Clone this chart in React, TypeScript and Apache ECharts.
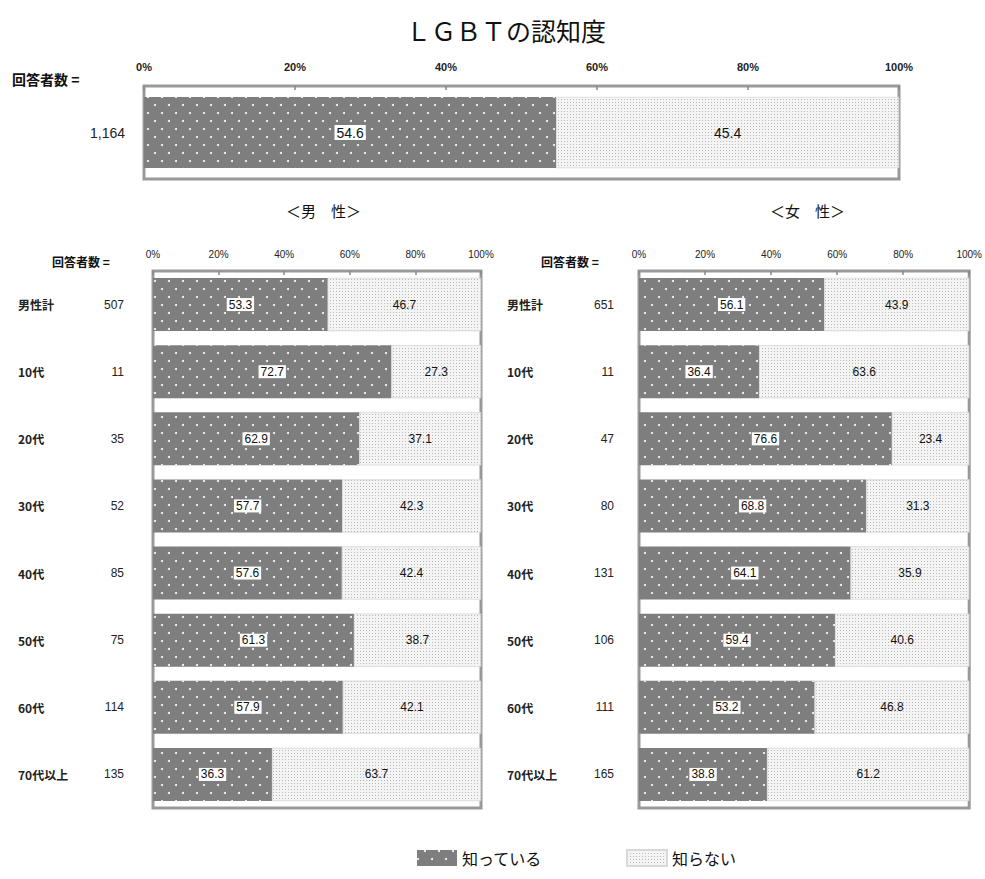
import React, { useEffect, useRef } from "react";
import * as echarts from "echarts";

const titleText = "ＬＧＢＴの認知度";
const seriesNames = ["知っている", "知らない"];
const tickValues = [0, 20, 40, 60, 80, 100];

const totalCategories = ["全体"];
const totalCounts = ["1,164"];
const totalKnow = [54.6];
const totalNot = [45.4];

const categories = ["男性計", "10代", "20代", "30代", "40代", "50代", "60代", "70代以上"];
const maleCounts = ["507", "11", "35", "52", "85", "75", "114", "135"];
const maleKnow = [53.3, 72.7, 62.9, 57.7, 57.6, 61.3, 57.9, 36.3];
const maleNot = [46.7, 27.3, 37.1, 42.3, 42.4, 38.7, 42.1, 63.7];
const femaleCounts = ["651", "11", "47", "80", "131", "106", "111", "165"];
const femaleKnow = [56.1, 36.4, 76.6, 68.8, 64.1, 59.4, 53.2, 38.8];
const femaleNot = [43.9, 63.6, 23.4, 31.3, 35.9, 40.6, 46.8, 61.2];

const JP = '"Noto Sans CJK JP", "Noto Sans", sans-serif';
const NUM = '"Liberation Sans", Arial, sans-serif';

const darkDecal = {
  symbol: "circle",
  symbolSize: 1,
  color: "#ffffff",
  backgroundColor: "#7e7e7e",
  dashArrayX: [[2, 12], [0, 7, 2, 5]],
  dashArrayY: [2, 6],
  rotation: 0,
};
const lightDecal = {
  symbol: "rect",
  symbolSize: 1,
  color: "#b8b8b8",
  backgroundColor: "#fafafa",
  dashArrayX: [1, 2],
  dashArrayY: [1, 2],
  rotation: 0,
};

export default function App() {
  const ref = useRef<HTMLDivElement>(null);
  useEffect(() => {
    if (!ref.current) return;
    document.body.style.margin = "0";
    const chart = echarts.init(ref.current, null, { renderer: "svg" });

    const grids = [
      { left: 144, top: 86, width: 755, height: 93 },
      { left: 153, top: 271, width: 328, height: 537 },
      { left: 639, top: 271, width: 331, height: 537 },
    ];
    const countSets = [totalCounts, maleCounts, femaleCounts];
    const catSets = [totalCategories, categories, categories];
    const knowSets = [totalKnow, maleKnow, femaleKnow];
    const notSets = [totalNot, maleNot, femaleNot];
    const labelCfg = [
      { margin: 19, aW: 0, bW: 60, size: 14 },
      { margin: 29, aW: 66, bW: 40, size: 12 },
      { margin: 25, aW: 67, bW: 40, size: 12 },
    ];

    const xAxis = grids.map((g, i) => ({
      gridIndex: i,
      type: "value",
      position: "top",
      min: 0,
      max: 100,
      interval: 20,
      axisLine: { show: false },
      axisTick: { show: true, inside: true, length: 4, lineStyle: { color: "#888", width: 1.5 } },
      splitLine: { show: false },
      axisLabel: {
        formatter: (v: number) => (tickValues.includes(v) ? v + "%" : ""),
        fontFamily: NUM,
        fontSize: i === 0 ? 11 : 10,
        fontWeight: i === 0 ? "bold" : "normal",
        color: "#222",
        margin: i === 0 ? 14 : 12,
      },
    }));

    const yAxis = grids.map((g, i) => {
      const counts = countSets[i];
      const cats = catSets[i];
      const c = labelCfg[i];
      return {
        gridIndex: i,
        type: "category",
        inverse: true,
        data: cats,
        axisLine: { show: false },
        axisTick: { show: false },
        axisLabel: {
          margin: c.margin,
          formatter: (val: string, idx: number) =>
            i === 0 ? `{b|${counts[idx]}}` : `{a|${val}}{b|${counts[idx]}}`,
          rich: {
            a: { width: c.aW, align: "left", fontFamily: JP, fontSize: 12, fontWeight: "bold", color: "#222" },
            b: { width: c.bW, align: "right", fontFamily: NUM, fontSize: c.size, color: "#222" },
          },
        },
      };
    });

    const series: any[] = [];
    grids.forEach((g, i) => {
      series.push({
        name: seriesNames[0],
        type: "bar",
        stack: "s" + i,
        xAxisIndex: i,
        yAxisIndex: i,
        data: knowSets[i],
        barWidth: i === 0 ? 71 : "79%",
        itemStyle: { color: "#7e7e7e", decal: darkDecal },
        label: {
          show: true,
          position: "inside",
          formatter: (p: any) => Number(p.value).toFixed(1),
          fontFamily: NUM,
          fontSize: i === 0 ? 14 : 12,
          color: "#111",
          backgroundColor: "#ffffff",
          padding: [1, 2, 0, 2],
        },
      });
      series.push({
        name: seriesNames[1],
        type: "bar",
        stack: "s" + i,
        xAxisIndex: i,
        yAxisIndex: i,
        data: notSets[i],
        barWidth: i === 0 ? 71 : "79%",
        itemStyle: { color: "#f4f4f4", decal: lightDecal, borderColor: "#d8d8d8", borderWidth: 0.5 },
        label: {
          show: true,
          position: "inside",
          formatter: (p: any) => Number(p.value).toFixed(1),
          fontFamily: NUM,
          fontSize: i === 0 ? 14 : 12,
          color: "#111",
        },
      });
    });

    const option: any = {
      animation: false,
      backgroundColor: "#ffffff",
      title: {
        text: titleText,
        left: 401,
        top: 12,
        textStyle: { fontFamily: JP, fontSize: 25, fontWeight: "normal", color: "#111" },
      },
      grid: grids.map((g) => ({
        ...g,
        show: true,
        backgroundColor: "#ffffff",
        borderColor: "#999999",
        borderWidth: 3,
      })),
      xAxis,
      yAxis,
      series,
      legend: {
        data: seriesNames,
        left: 417,
        top: 849,
        padding: 0,
        icon: "rect",
        itemWidth: 40,
        itemHeight: 16,
        itemGap: 84,
        textStyle: { fontFamily: JP, fontSize: 16, color: "#111" },
      },
      graphic: [
        { type: "text", left: 12, top: 72, style: { text: "回答者数 =", font: `bold 14px ${JP}`, fill: "#111" } },
        { type: "text", left: 52, top: 255, style: { text: "回答者数 =", font: `bold 12px ${JP}`, fill: "#111" } },
        { type: "text", left: 541, top: 255, style: { text: "回答者数 =", font: `bold 12px ${JP}`, fill: "#111" } },
        { type: "text", left: 286, top: 203, style: { text: "＜男　性＞", font: `15px ${JP}`, fill: "#111" } },
        { type: "text", left: 770, top: 203, style: { text: "＜女　性＞", font: `15px ${JP}`, fill: "#111" } },
      ],
    };
    chart.setOption(option);
    return () => chart.dispose();
  }, []);
  return <div ref={ref} style={{ width: 985, height: 879 }} />;
}
